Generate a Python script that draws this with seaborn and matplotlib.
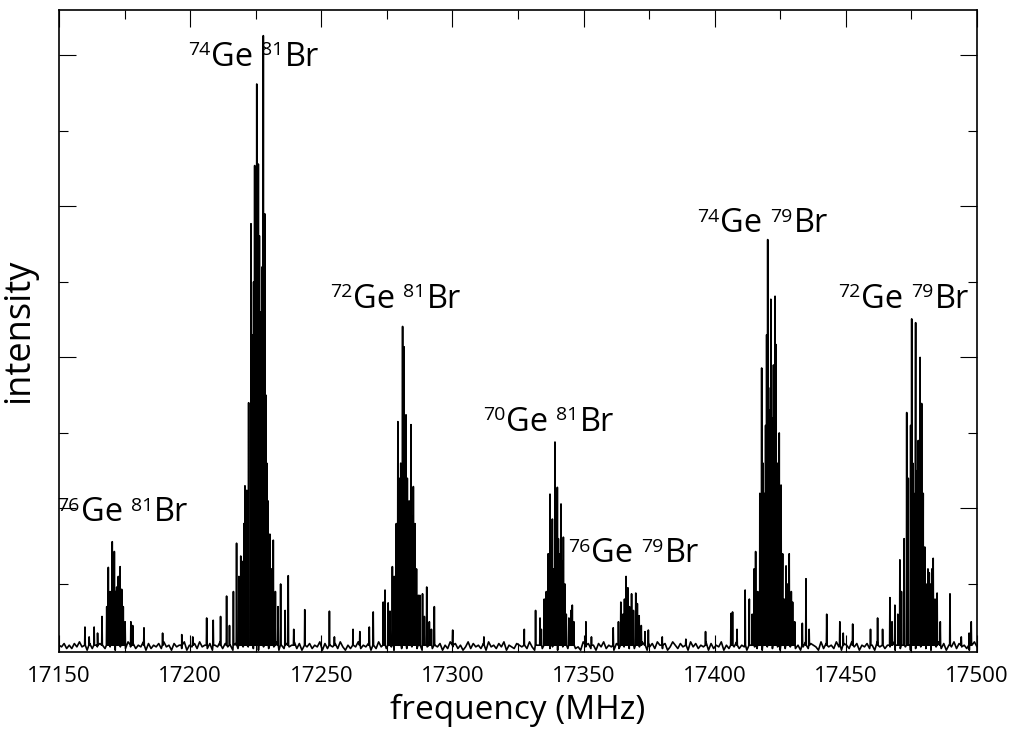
import numpy as np
import pandas as pd
import matplotlib
matplotlib.use("Agg")
import matplotlib.pyplot as plt
from matplotlib import transforms
from matplotlib.ticker import MultipleLocator
import seaborn as sns

# line lists (MHz, arbitrary intensity)
ge76_br81_freq = [17159.9, 17161.5, 17163.4, 17164.7, 17166.4, 17168.2, 17168.8, 17169.5,
                  17170.3, 17170.7, 17171.1, 17171.6, 17172.0, 17172.6, 17173.3, 17173.9,
                  17174.5, 17175.2, 17177.4, 17178.1, 17182.4, 17189.5, 17196.8, 17201.0]
ge76_br81_int = [0.43, 0.30, 0.43, 0.35, 0.57, 0.70, 1.22, 0.90,
                 1.56, 1.10, 1.43, 0.90, 0.96, 1.10, 1.23, 0.93,
                 0.70, 0.50, 0.50, 0.45, 0.42, 0.35, 0.33, 0.30]

ge74_br81_freq = [17206.3, 17208.8, 17211.6, 17213.9, 17215.0, 17216.5, 17217.7, 17218.6,
                  17219.3, 17219.8, 17220.5, 17220.9, 17221.6, 17222.3, 17223.2, 17223.7,
                  17224.2, 17224.6, 17225.0, 17225.4, 17225.7, 17226.0, 17226.4, 17226.8,
                  17227.1, 17227.5, 17227.9, 17228.2, 17228.5, 17228.9, 17229.2, 17229.7,
                  17230.4, 17231.0, 17231.7, 17232.5, 17233.5, 17234.5, 17236.2, 17237.4,
                  17239.5, 17243.7]
ge74_br81_int = [0.55, 0.52, 0.57, 0.84, 0.45, 0.90, 1.54, 1.10,
                 1.37, 1.30, 1.80, 2.30, 2.24, 3.40, 5.77, 4.30,
                 5.00, 6.54, 4.90, 7.62, 5.40, 6.56, 5.61, 4.60,
                 3.86, 5.20, 8.26, 4.40, 5.90, 3.50, 2.60, 2.10,
                 1.66, 1.20, 1.58, 0.90, 0.70, 1.00, 0.65, 1.11,
                 0.40, 0.66]

ge72_br81_freq = [17253.1, 17255.0, 17262.1, 17264.7, 17268.3, 17269.8, 17273.6, 17274.3,
                  17275.5, 17276.2, 17277.1, 17277.8, 17278.6, 17279.2, 17279.7, 17280.3,
                  17281.0, 17281.3, 17281.6, 17282.0, 17282.3, 17282.8, 17283.5, 17284.2,
                  17284.7, 17285.1, 17285.7, 17286.3, 17287.0, 17287.6, 17288.6, 17289.3,
                  17290.2, 17291.2, 17292.0, 17293.1, 17300.1, 17312.0]
ge72_br81_int = [0.64, 0.30, 0.40, 0.37, 0.43, 0.63, 0.76, 0.92,
                 0.75, 0.64, 1.23, 1.10, 1.80, 3.15, 2.40, 2.60,
                 4.41, 3.00, 4.14, 2.80, 3.24, 2.40, 2.10, 3.11,
                 1.90, 2.29, 1.80, 1.20, 0.85, 0.85, 0.87, 0.57,
                 0.96, 0.50, 0.40, 0.70, 0.39, 0.30]

ge70_br81_freq = [17327.4, 17331.7, 17333.4, 17333.9, 17335.0, 17335.8, 17336.5, 17337.2,
                  17337.6, 17338.1, 17338.5, 17339.1, 17339.5, 17340.0, 17340.4, 17340.7,
                  17341.4, 17341.9, 17342.3, 17342.9, 17343.4, 17344.4, 17345.2, 17345.7,
                  17346.3, 17350.9, 17353.0]
ge70_br81_int = [0.40, 0.65, 0.55, 0.40, 0.80, 0.90, 1.40, 2.19,
                 1.50, 1.86, 1.20, 2.88, 1.80, 2.28, 1.60, 1.40,
                 2.06, 1.30, 1.62, 1.00, 0.60, 0.55, 0.65, 0.72,
                 0.50, 0.50, 0.30]

ge76_br79_freq = [17361.3, 17363.3, 17364.2, 17365.0, 17365.6, 17366.2, 17366.6, 17366.9,
                  17367.5, 17368.3, 17369.0, 17369.9, 17370.5, 17371.2, 17372.0, 17373.4,
                  17374.7, 17380.0, 17389.0, 17396.5]
ge76_br79_int = [0.42, 0.50, 0.76, 0.60, 0.80, 1.10, 0.80, 0.95,
                 0.70, 0.87, 0.65, 0.88, 0.74, 0.58, 0.45, 0.37,
                 0.39, 0.30, 0.27, 0.37]

ge74_br79_freq = [17406.2, 17406.8, 17408.5, 17411.6, 17413.2, 17414.3, 17415.0, 17415.6,
                  17416.4, 17417.2, 17417.9, 17418.4, 17419.1, 17419.4, 17419.8, 17420.2,
                  17420.5, 17420.8, 17421.4, 17421.7, 17422.0, 17422.4, 17423.0, 17423.4,
                  17423.8, 17424.6, 17425.3, 17425.9, 17426.5, 17427.2, 17427.7, 17428.4,
                  17429.2, 17429.7, 17430.5, 17433.4, 17434.8, 17436.0, 17442.7, 17447.7,
                  17449.0, 17452.6]
ge74_br79_int = [0.61, 0.63, 0.40, 0.92, 0.80, 0.60, 1.20, 1.43,
                 0.90, 2.20, 3.86, 2.60, 2.20, 3.10, 4.30, 5.56,
                 3.60, 3.30, 4.77, 3.20, 2.80, 3.90, 4.81, 4.17,
                 2.60, 3.00, 2.31, 1.40, 0.80, 1.24, 1.00, 1.40,
                 0.90, 0.76, 0.50, 0.48, 1.07, 0.40, 0.60, 0.50,
                 0.35, 0.47]

ge72_br79_freq = [17459.4, 17462.1, 17464.0, 17466.8, 17467.6, 17468.7, 17469.8, 17470.6,
                  17471.2, 17472.2, 17473.2, 17473.8, 17474.7, 17475.1, 17475.5, 17475.9,
                  17476.6, 17477.1, 17477.6, 17478.3, 17478.9, 17479.5, 17480.1, 17480.6,
                  17481.3, 17481.8, 17482.4, 17482.8, 17483.3, 17484.0, 17484.8, 17486.0,
                  17489.7, 17494.0, 17497.0, 17497.8]
ge72_br79_int = [0.40, 0.55, 0.40, 0.82, 0.50, 0.72, 0.60, 1.32,
                 0.90, 1.60, 3.27, 2.40, 3.10, 4.51, 2.60, 2.20,
                 4.46, 2.50, 2.90, 4.00, 3.39, 2.20, 1.49, 1.00,
                 1.20, 1.15, 1.00, 1.20, 1.34, 0.80, 0.88, 0.50,
                 0.87, 0.30, 0.35, 0.50]

# baseline noise, one digit per sample (4 = mean level)
noise_rows = [
    "43524 25363 41524 35426 35143 42635 24361 52435 26341",
    "53426 14352 63425 14362 53415 24363 42516 34253 61425",
    "34625 14352 43615 24352 63142 53624 35142 63524 31462",
    "52436 24153 62435 14263 52413 62534 25163 42536 14325",
    "43526 31452 64235 14362 45231 63524 15362 43152 63425",
    "25364 13526 42513 64253 41635 24361 52436 14253 62431",
    "46325 14362 53142 63524 13625 43162 53426 31542 63514",
    "35241 63524 36152 43615 24362 51436 25143 62534 21463",
]
baseline = 0.19
noise_step = 0.022

# isotopologue labels: Ge mass, Br mass, anchor (MHz, intensity)
label_ge = ["76", "74", "72", "70", "76", "74", "72"]
label_br = ["81", "81", "81", "81", "79", "79", "79"]
label_x = [17149.4, 17199.2, 17253.3, 17311.6, 17344.1, 17393.2, 17447.0]
label_y = [1.83, 7.86, 4.66, 3.03, 1.29, 5.66, 4.66]

# build the trace
digits = [int(c) for c in "".join(noise_rows).replace(" ", "")]
noise_f = np.linspace(17150, 17500, len(digits))
noise_y = baseline + (np.array(digits) - 4) * noise_step

line_f = np.array(ge76_br81_freq + ge74_br81_freq + ge72_br81_freq + ge70_br81_freq
                  + ge76_br79_freq + ge74_br79_freq + ge72_br79_freq)
line_y = np.array(ge76_br81_int + ge74_br81_int + ge72_br81_int + ge70_br81_int
                  + ge76_br79_int + ge74_br79_int + ge72_br79_int)
hw = 0.12
stick_f = np.concatenate([line_f - hw, line_f, line_f + hw])
stick_y = np.concatenate([np.full(len(line_f), baseline), line_y, np.full(len(line_f), baseline)])

df = pd.DataFrame({"freq": np.concatenate([noise_f, stick_f]),
                   "intensity": np.concatenate([noise_y, stick_y])})
df = df.sort_values("freq", kind="mergesort").reset_index(drop=True)

sns.set_theme(style="ticks")
plt.rcParams['font.family'] = ['Open Sans', 'DejaVu Sans']
plt.rcParams['text.color'] = 'black'
plt.rcParams['axes.labelcolor'] = 'black'

fig = plt.figure(figsize=(10.09, 7.29), dpi=100)
ax = fig.add_axes([59 / 1009, 77 / 729, 918 / 1009, 642 / 729])

sns.lineplot(data=df, x="freq", y="intensity", ax=ax, color="black", lw=1.2,
             estimator=None, sort=False)

ax.set_xlim(17150, 17500)
ax.set_ylim(0.1, 8.6)
ax.xaxis.set_major_locator(MultipleLocator(50))
ax.xaxis.set_minor_locator(MultipleLocator(25))
ax.yaxis.set_major_locator(MultipleLocator(2))
ax.yaxis.set_minor_locator(MultipleLocator(1))
ax.tick_params(which="both", direction="in", top=True, right=True, width=0.8,
               color="black", labelcolor="black")
ax.tick_params(which="major", length=12.5)
ax.tick_params(which="minor", length=6.5)
ax.tick_params(axis="x", labelsize=16, pad=10)
ax.tick_params(axis="y", labelleft=False)
for s in ax.spines.values():
    s.set_linewidth(1.2)
    s.set_color("black")

ax.set_xlabel("frequency (MHz)", fontsize=24, labelpad=5, color="black")
ax.set_ylabel("intensity", fontsize=26, labelpad=12, color="black")

# labels drawn piece by piece so the mass numbers sit as small superscripts
fig.canvas.draw()
renderer = fig.canvas.get_renderer()
main_size, sup_size, sup_raise = 23.5, 14, 10.5
for ge, br, x, y in zip(label_ge, label_br, label_x, label_y):
    tr = ax.transData
    pieces = [(ge, sup_size, sup_raise, 1), ("Ge", main_size, 0, 8),
              (br, sup_size, sup_raise, 1), ("Br", main_size, 0, 0)]
    for s, size, rise, gap in pieces:
        t = ax.text(x, y, s, fontsize=size, ha="left", va="baseline", color="black",
                    transform=transforms.offset_copy(tr, y=rise, units="dots"))
        w = t.get_window_extent(renderer).width
        tr = transforms.offset_copy(tr, x=w + gap, units="dots")

fig.savefig("out.png", dpi=100)
